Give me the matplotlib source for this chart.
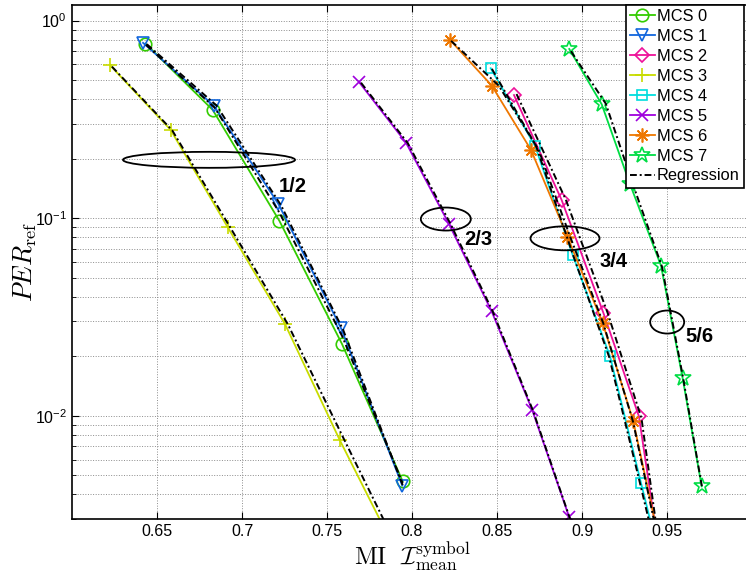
import numpy as np
import matplotlib
matplotlib.use("Agg")
import matplotlib.pyplot as plt
from matplotlib.patches import Ellipse
from matplotlib.transforms import ScaledTranslation
from matplotlib.ticker import LogLocator, NullFormatter

# measured points (MI, PER) per MCS
mi_mcs0 = [0.6432, 0.6828, 0.7220, 0.7588, 0.7945]
per_mcs0 = [0.766, 0.353, 0.0969, 0.0231, 0.00466]
mi_mcs1 = [0.6418, 0.6834, 0.7214, 0.7582, 0.7943]
per_mcs1 = [0.772, 0.371, 0.118, 0.0278, 0.00443]
mi_mcs2 = [0.8600, 0.8880, 0.9125, 0.9335, 0.9455]
per_mcs2 = [0.420, 0.1237, 0.0333, 0.00992, 0.0020]
mi_mcs3 = [0.6225, 0.6580, 0.6916, 0.7253, 0.7576, 0.7900]
per_mcs3 = [0.593, 0.280, 0.090, 0.0291, 0.0075, 0.0021]
mi_mcs4 = [0.8463, 0.8724, 0.8945, 0.9165, 0.9347, 0.9450]
per_mcs4 = [0.574, 0.232, 0.0652, 0.01995, 0.00457, 0.0020]
mi_mcs5 = [0.7690, 0.7965, 0.8218, 0.8469, 0.8708, 0.8925]
per_mcs5 = [0.487, 0.241, 0.0933, 0.0337, 0.01064, 0.00306]
mi_mcs6 = [0.8224, 0.8469, 0.8700, 0.8914, 0.9122, 0.9302, 0.9470]
per_mcs6 = [0.798, 0.469, 0.2216, 0.0807, 0.0294, 0.00935, 0.0020]
mi_mcs7 = [0.8925, 0.9116, 0.9282, 0.9465, 0.9592, 0.9704]
per_mcs7 = [0.7186, 0.377, 0.149, 0.0574, 0.0155, 0.00439]

# regression curves
reg_mi0 = [0.6435, 0.6840, 0.7222, 0.7590, 0.7945]
reg_per0 = [0.755, 0.362, 0.106, 0.0252, 0.00455]
reg_mi1 = [0.6440, 0.6850, 0.7230, 0.7595, 0.7945]
reg_per1 = [0.760, 0.372, 0.116, 0.0272, 0.00445]
reg_mi2 = [0.8615, 0.8905, 0.9150, 0.9350, 0.9460]
reg_per2 = [0.425, 0.124, 0.0333, 0.0097, 0.0020]
reg_mi3 = [0.6235, 0.6590, 0.6930, 0.7270, 0.7600, 0.7920]
reg_per3 = [0.585, 0.278, 0.090, 0.0290, 0.0076, 0.0021]
reg_mi4 = [0.8470, 0.8730, 0.8945, 0.9160, 0.9340, 0.9440]
reg_per4 = [0.570, 0.232, 0.066, 0.0198, 0.0046, 0.0020]
reg_mi5 = [0.7700, 0.7975, 0.8228, 0.8475, 0.8712, 0.8930]
reg_per5 = [0.485, 0.240, 0.093, 0.0337, 0.0106, 0.0030]
reg_mi6 = [0.8230, 0.8510, 0.8745, 0.8930, 0.9125, 0.9300, 0.9465]
reg_per6 = [0.790, 0.469, 0.2216, 0.0807, 0.0294, 0.00935, 0.0020]
reg_mi7 = [0.8935, 0.9140, 0.9295, 0.9470, 0.9595, 0.9705]
reg_per7 = [0.700, 0.380, 0.152, 0.0570, 0.0155, 0.0044]

mcs_labels = ["MCS 0", "MCS 1", "MCS 2", "MCS 3", "MCS 4", "MCS 5", "MCS 6", "MCS 7"]
rate_labels = ["1/2", "2/3", "3/4", "5/6"]
rate_label_pos = [(0.7300, 0.144), (0.8388, 0.078), (0.9188, 0.0602), (0.9688, 0.0252)]
ellipse_pos = [(0.6806, 0.1974), (0.8199, 0.099), (0.8900, 0.0791), (0.9501, 0.0298)]
ellipse_px = [(172, 16), (50, 23), (69, 24), (34, 23)]
xtick_vals = [0.65, 0.7, 0.75, 0.8, 0.85, 0.9, 0.95]
xtick_labels = ["0.65", "0.7", "0.75", "0.8", "0.85", "0.9", "0.95"]

mis = [mi_mcs0, mi_mcs1, mi_mcs2, mi_mcs3, mi_mcs4, mi_mcs5, mi_mcs6, mi_mcs7]
pers = [per_mcs0, per_mcs1, per_mcs2, per_mcs3, per_mcs4, per_mcs5, per_mcs6, per_mcs7]
reg_mis = [reg_mi0, reg_mi1, reg_mi2, reg_mi3, reg_mi4, reg_mi5, reg_mi6, reg_mi7]
reg_pers = [reg_per0, reg_per1, reg_per2, reg_per3, reg_per4, reg_per5, reg_per6, reg_per7]

colors = ["#33cc00", "#1166dd", "#ee1199", "#c8dc00", "#00dddd", "#9f00dd", "#ee7700", "#00dd44"]
markers = ["o", "v", "D", "+", "s", "x", (8, 2, 0), "*"]
msizes = [9, 9, 7.5, 10, 7.5, 8, 10, 12]

plt.rcParams["font.family"] = "Liberation Sans"
plt.rcParams["mathtext.fontset"] = "cm"

dpi = 100
fig = plt.figure(figsize=(7.46, 5.79), dpi=dpi)
ax = fig.add_axes([72 / 746, 1 - 519 / 579, 680 / 746, 514 / 579])

for mi, per, c, m, ms, lab in zip(mis, pers, colors, markers, msizes, mcs_labels):
    ax.semilogy(mi, per, color=c, marker=m, ms=ms, mfc="none", mec=c, mew=1.2,
                lw=1.3, label=lab)

for i, (mi, per) in enumerate(zip(reg_mis, reg_pers)):
    ax.semilogy(mi, per, color="k", lw=1.4, linestyle=(0, (3.5, 1.5, 1, 1.5)),
                label="Regression" if i == 0 else None)

ax.set_xlim(0.6, 1.0)
ax.set_ylim(3e-3, 1.2)
ax.set_xticks(xtick_vals)
ax.set_xticklabels(xtick_labels)
ax.yaxis.set_major_locator(LogLocator(base=10))
ax.yaxis.set_minor_locator(LogLocator(base=10, subs=np.arange(2, 10)))
ax.yaxis.set_minor_formatter(NullFormatter())
ax.grid(True, which="major", linestyle=":", color="0.55", lw=0.7)
ax.grid(True, which="minor", axis="y", linestyle=":", color="0.55", lw=0.7)
ax.tick_params(which="both", direction="in", top=True, right=False, labelsize=11.5)
ax.tick_params(which="major", length=5)
ax.tick_params(which="minor", length=3)
for s in ax.spines.values():
    s.set_linewidth(1.2)
ax.spines["right"].set_visible(False)

# code-rate ellipses (size given in pixels)
for (cx, cy), (w, h) in zip(ellipse_pos, ellipse_px):
    tr = fig.dpi_scale_trans + ScaledTranslation(cx, cy, ax.transData)
    ax.add_patch(Ellipse((0, 0), w / dpi, h / dpi, transform=tr, fill=False,
                         ec="k", lw=1.3, zorder=5))

for lab, (x, y) in zip(rate_labels, rate_label_pos):
    ax.text(x, y, lab, fontsize=14.5, fontweight="bold", ha="center", va="center")

ax.set_xlabel(r"$\mathrm{MI}\ \ \mathcal{I}_{\mathrm{mean}}^{\mathrm{symbol}}$", fontsize=18, labelpad=1)
ax.set_ylabel(r"$PER_{\mathrm{ref}}$", fontsize=19, labelpad=-3)

leg = ax.legend(loc="upper right", bbox_to_anchor=(744 / 746, 1 - 5 / 579),
                bbox_transform=fig.transFigure, borderaxespad=0, fontsize=11.8,
                fancybox=False, framealpha=1, edgecolor="k", labelspacing=0.3,
                handlelength=1.5, handletextpad=0.15, borderpad=0.25)
leg.get_frame().set_linewidth(1.2)
leg.set_zorder(10)

fig.savefig("out.png", dpi=dpi)
